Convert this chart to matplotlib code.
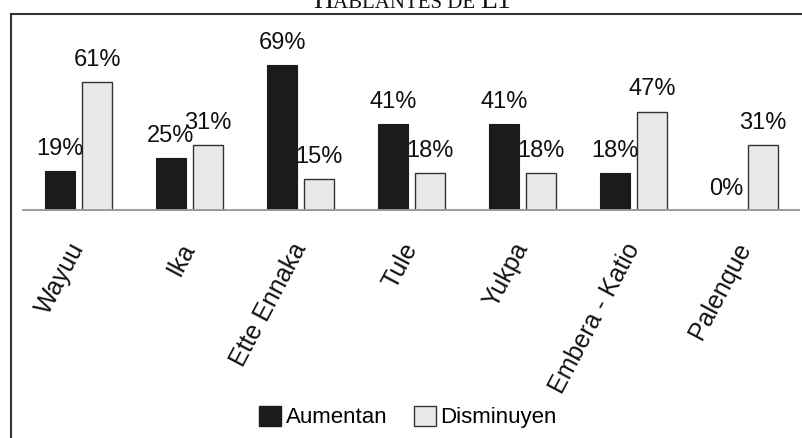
import matplotlib
matplotlib.use("Agg")
import matplotlib.pyplot as plt
from matplotlib.lines import Line2D
from matplotlib.patches import Patch
import numpy as np

plt.rcParams["font.family"] = ["Liberation Sans", "DejaVu Sans"]

# datos
pueblos = ["Wayuu", "Ika", "Ette Ennaka", "Tule", "Yukpa", "Embera - Katio", "Palenque"]
aumentan = [19, 25, 69, 41, 41, 18, 0]
disminuyen = [61, 31, 15, 18, 18, 47, 31]

BLACK = "#1c1a1c"
LIGHT = "#e8eaea"
EDGE = "#333333"
BASE = "#9a9a96"

W, H = 802, 438
fig = plt.figure(figsize=(W / 100, H / 100), dpi=100)
fig.patch.set_facecolor("white")

# ejes en pixeles: linea base y=211, tope y=14
ax = fig.add_axes([22 / W, (H - 211) / H, (800 - 22) / W, (211 - 14) / H])
ax.set_xlim(-0.51, 6.5)
ax.set_ylim(0, 197 / 2.116)
for s in ax.spines.values():
    s.set_visible(False)
ax.set_yticks([])

x = np.arange(len(pueblos))
bw = 0.27
off = 0.167
b1 = ax.bar(x - off, aumentan, bw, color=BLACK, edgecolor=BLACK, lw=0.8, zorder=3)
b2 = ax.bar(x + off, disminuyen, bw, color=LIGHT, edgecolor=EDGE, lw=1.0, zorder=3)
ax.axhline(0, color=BASE, lw=3.5, zorder=4)

for bars, vals in ((b1, aumentan), (b2, disminuyen)):
    for r, v in zip(bars, vals):
        ax.annotate(f"{v}%", (r.get_x() + r.get_width() / 2, v),
                    xytext=(0, 16), textcoords="offset points",
                    ha="center", va="center", fontsize=17, color="#111111",
                    annotation_clip=False)

ax.set_xticks(x)
ax.set_xticklabels(pueblos, rotation=62, ha="right", va="center",
                   rotation_mode="anchor", fontsize=18, color="#111111")
ax.tick_params(axis="x", length=0, pad=24)

# marco
fig.add_artist(Line2D([11 / W, 1], [(H - 14) / H] * 2, color=EDGE, lw=1.5))
fig.add_artist(Line2D([11 / W] * 2, [0, (H - 14) / H], color=EDGE, lw=1.5))

# titulo (cortado arriba), versalitas
ty = 1 - 8.5 / H
t1 = fig.text(313 / W, ty, "H", fontsize=20, family="Liberation Serif",
              ha="left", va="baseline", color="#111111")
fig.canvas.draw()
bb = t1.get_window_extent()
t2 = fig.text(bb.x1 / W, ty, "ABLANTES DE ", fontsize=15, family="Liberation Serif",
              ha="left", va="baseline", color="#111111")
fig.canvas.draw()
bb = t2.get_window_extent()
fig.text(bb.x1 / W, ty, "L1", fontsize=20, family="Liberation Serif",
         ha="left", va="baseline", color="#111111")

handles = [Patch(facecolor=BLACK, edgecolor=BLACK, label="Aumentan"),
           Patch(facecolor=LIGHT, edgecolor=EDGE, label="Disminuyen")]
fig.legend(handles=handles, loc="center", bbox_to_anchor=(408 / W, (H - 417) / H),
           ncol=2, frameon=False, fontsize=16, handlelength=1.0, handleheight=1.0,
           handletextpad=0.2, columnspacing=1.2)

fig.savefig("out.png", dpi=100)
